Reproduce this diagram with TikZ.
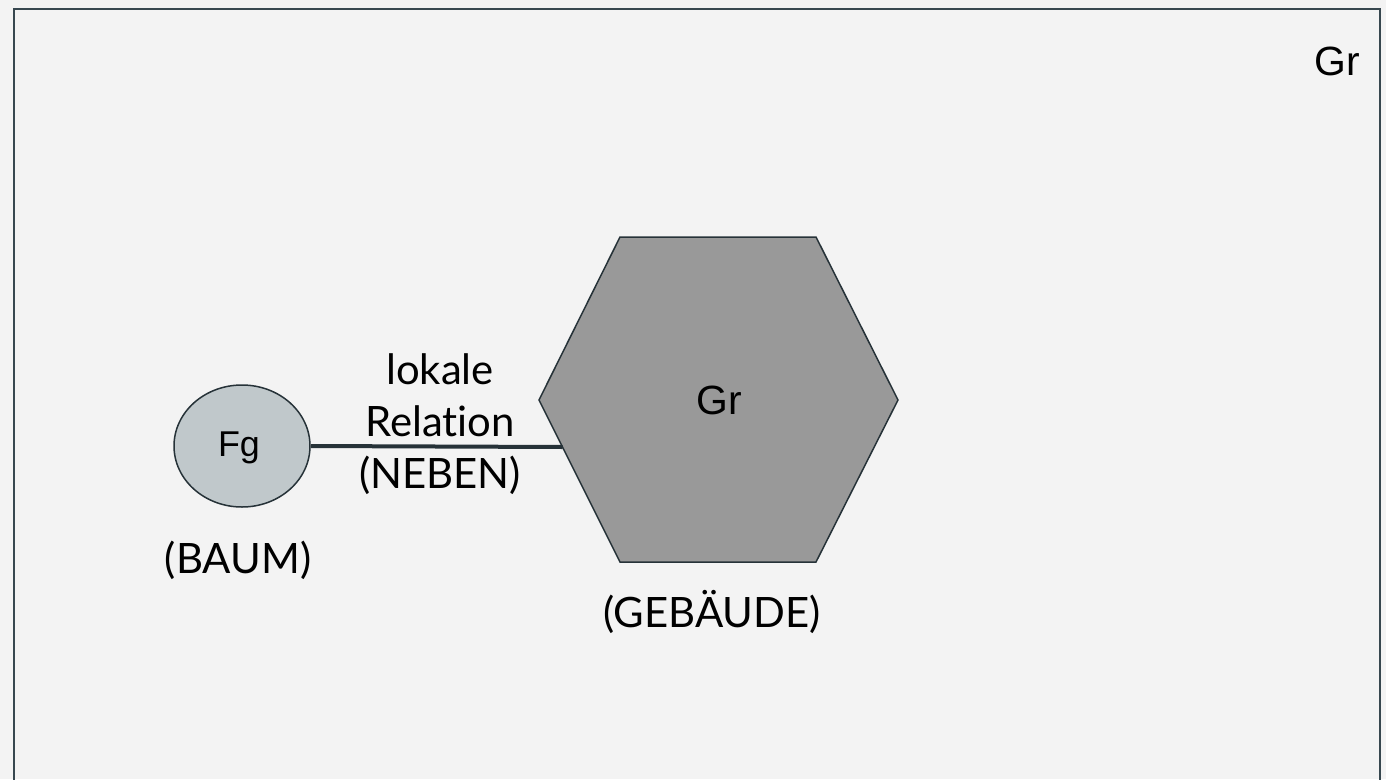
\documentclass[tikz,border=0pt]{standalone}
\usepackage{fontspec}
\setmainfont{Lato}[Ligatures={NoCommon}]
\newfontfamily\arialfont{Liberation Sans}
\usetikzlibrary{shapes.geometric}
\definecolor{pagebg}{HTML}{F3F3F3}
\definecolor{frame}{HTML}{37474F}
\definecolor{ink}{HTML}{263238}
\definecolor{treefill}{HTML}{C0C8CB}
\definecolor{housefill}{HTML}{999999}
\tikzset{
  figure/.style={draw=ink, line width=1.5bp, fill=treefill, ellipse, inner sep=0pt},
  shapelabel/.style={font=\arialfont\fontsize{41}{48}\selectfont, text=black, inner sep=0pt},
  smalllabel/.style={font=\arialfont\fontsize{36}{42}\selectfont, text=black, inner sep=0pt},
  caption/.style={font=\fontsize{42}{52}\selectfont, text=black, inner sep=0pt, align=center},
  relation/.style={draw=ink, line width=4bp},
}
\begin{document}
\begin{tikzpicture}[x=1bp, y=-1bp]
  \useasboundingbox (0,0) rectangle (1386,779);
  \fill[pagebg] (0,0) rectangle (1386,779);
  % frame of the ground
  \draw[frame, line width=2.5bp] (14,800) -- (14,9) -- (1380,9) -- (1380,800);
  \node[shapelabel, anchor=base east] (grcorner) at (1360,75) {Gr};

  % the building (ground)
  \coordinate (h1) at (620,237);
  \coordinate (h2) at (816,237);
  \coordinate (h3) at (898,400);
  \coordinate (h4) at (816,562);
  \coordinate (h5) at (620,562);
  \coordinate (h6) at (539,400);
  \draw[draw=ink, line width=1.5bp, fill=housefill, line join=miter]
    (h1) -- (h2) -- (h3) -- (h4) -- (h5) -- (h6) -- cycle;
  \node[shapelabel] (gr) at (719,400) {Gr};
  \coordinate (hexwest) at (562.5,447);

  % the tree (figure)
  \node[figure, minimum width=136bp, minimum height=122bp] (fg) at (242,446) {};
  \node[smalllabel] (fgtext) at (239,448) {Fg};

  % relation between figure and ground
  \draw[relation] (fg.east) -- (hexwest);

  \node[caption] (rel) at (440,424) {lokale\\Relation\\(NEBEN)};
  \node[caption, anchor=base] (baum) at (238,573) {(BAUM)};
  \node[caption, anchor=base] (gebaeude) at (712,627) {(GEBÄUDE)};
\end{tikzpicture}
\end{document}
